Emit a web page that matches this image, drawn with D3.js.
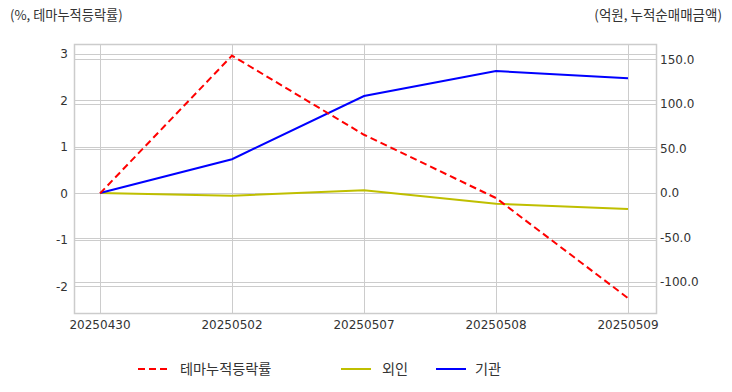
<!DOCTYPE html>
<html><head><meta charset="utf-8">
<script src="https://cdn.jsdelivr.net/npm/d3@7"></script>
<style>body{margin:0;background:#fff;font-family:"Noto Sans CJK KR","Noto Sans",sans-serif;}</style>
</head><body><svg id="c" width="732" height="392"></svg>
<script>
const dates = ["20250430","20250502","20250507","20250508","20250509"];
const themeRate = [0, 2.96, 1.26, -0.1, -2.25];
const foreign = [0, -3, 3, -12, -18];
const institution = [0, 38, 109, 137, 129];
const leftTicks = [-2,-1,0,1,2,3];
const rightTicks = [-100,-50,0,50,100,150];
const seriesNames = ["테마누적등락률","외인","기관"];

const svg = d3.select("#c");
const L=74,R=656,T=44,B=313;
const x = d3.scalePoint().domain(dates).range([100,628]);
const yL = d3.scaleLinear().domain([-2.57,3.21]).range([B,T]);
const yR = d3.scaleLinear().domain([-134.8,167.4]).range([B,T]);
const font = '"Noto Sans CJK KR","Noto Sans",sans-serif';
const numFont = '"DejaVu Sans",sans-serif';

// grid
const g = svg.append("g");
g.selectAll(".gl").data(leftTicks).enter().append("line")
 .attr("x1",L).attr("x2",R).attr("y1",d=>Math.round(yL(d))+0.5).attr("y2",d=>Math.round(yL(d))+0.5)
 .attr("stroke","#cccccc").attr("stroke-width",1);
g.selectAll(".gr").data(rightTicks).enter().append("line")
 .attr("x1",L).attr("x2",R).attr("y1",d=>Math.round(yR(d))+0.5).attr("y2",d=>Math.round(yR(d))+0.5)
 .attr("stroke","#cccccc").attr("stroke-width",1);
g.selectAll(".gx").data(dates).enter().append("line")
 .attr("y1",T).attr("y2",B).attr("x1",d=>Math.round(x(d))+0.5).attr("x2",d=>Math.round(x(d))+0.5)
 .attr("stroke","#cccccc").attr("stroke-width",1);
svg.append("rect").attr("x",L+0.5).attr("y",T+0.5).attr("width",R-L).attr("height",B-T)
 .attr("fill","none").attr("stroke","#cccccc").attr("stroke-width",1.5);

// axes labels
const fix = s => s.replace(/\u2212/g,"-");
svg.append("g").selectAll("text").data(leftTicks).enter().append("text")
 .attr("x",68).attr("y",d=>yL(d)).attr("dy","0.35em").attr("text-anchor","end")
 .attr("font-family",numFont).attr("font-size",12).attr("fill","#333").text(d=>fix(d3.format("d")(d)));
svg.append("g").selectAll("text").data(rightTicks).enter().append("text")
 .attr("x",660).attr("y",d=>yR(d)).attr("dy","0.35em").attr("text-anchor","start")
 .attr("font-family",numFont).attr("font-size",12).attr("fill","#333").text(d=>fix(d3.format(".1f")(d)));
svg.append("g").selectAll("text").data(dates).enter().append("text")
 .attr("x",d=>x(d)).attr("y",329).attr("text-anchor","middle")
 .attr("font-family",numFont).attr("font-size",12).attr("fill","#333").text(d=>d);

svg.append("text").attr("x",10).attr("y",20).attr("font-family",font).attr("font-size",13.2).attr("fill","#333").text("(%, 테마누적등락률)");
svg.append("text").attr("x",722).attr("y",20).attr("text-anchor","end").attr("font-family",font).attr("font-size",13.5).attr("fill","#333").text("(억원, 누적순매매금액)");

// lines
const lineL = d3.line().x((d,i)=>x(dates[i])).y(d=>yL(d));
const lineR = d3.line().x((d,i)=>x(dates[i])).y(d=>yR(d));
svg.append("path").attr("d",lineR(foreign)).attr("fill","none").attr("stroke","#bfbf00").attr("stroke-width",2);
svg.append("path").attr("d",lineR(institution)).attr("fill","none").attr("stroke","#0000ff").attr("stroke-width",2);
svg.append("path").attr("d",lineL(themeRate)).attr("fill","none").attr("stroke","#ff0000").attr("stroke-width",2).attr("stroke-dasharray","7,4");

// legend
const leg = [
 {name:seriesNames[0],color:"#ff0000",dash:"7,4",x1:138,tx:180},
 {name:seriesNames[1],color:"#bfbf00",dash:null,x1:341,tx:382},
 {name:seriesNames[2],color:"#0000ff",dash:null,x1:436,tx:475}];
leg.forEach(l=>{
 svg.append("line").attr("x1",l.x1).attr("x2",l.x1+30).attr("y1",369).attr("y2",369)
  .attr("stroke",l.color).attr("stroke-width",2).attr("stroke-dasharray",l.dash);
 svg.append("text").attr("x",l.tx).attr("y",369).attr("dy","0.35em").attr("font-family",font)
  .attr("font-size",14.2).attr("fill","#333").text(l.name);
});
</script></body></html>
